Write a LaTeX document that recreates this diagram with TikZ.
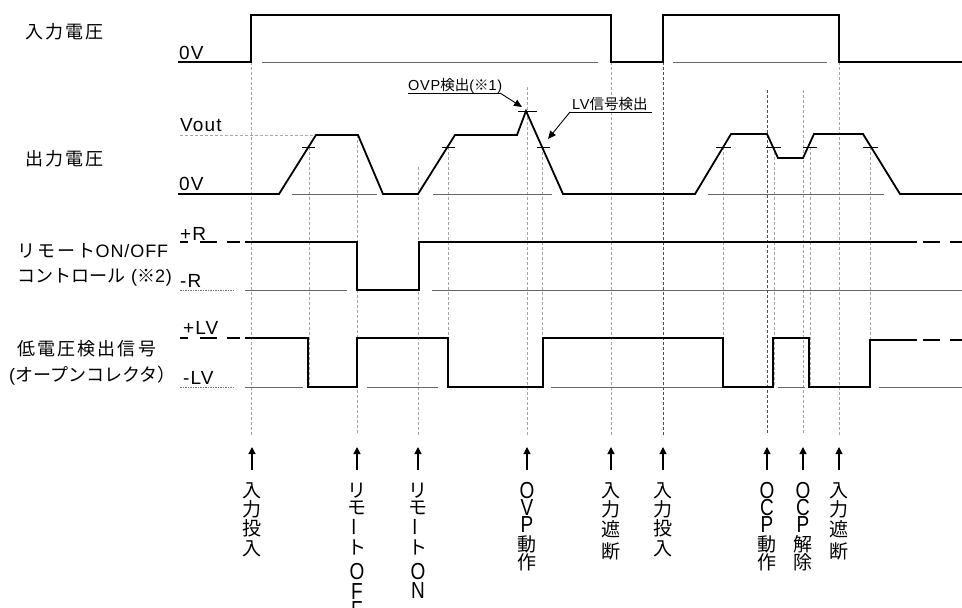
\documentclass[tikz,border=0pt]{standalone}
\usepackage{fontspec}
\setmainfont[LetterSpace=5]{Liberation Sans}
\newfontfamily\jp[LetterSpace=12]{Noto Sans CJK JP}
\newfontfamily\jpn{Noto Sans CJK JP}
\newfontfamily\lat{Liberation Sans}
\newfontfamily\latw[LetterSpace=6]{Liberation Sans}
\usetikzlibrary{arrows.meta}
\newcommand\LL[1]{\scalebox{1}[1.22]{\lat #1}}
\newcommand\VB{\rotatebox[origin=c]{90}{ー}}
\begin{document}
\begin{tikzpicture}[x=1pt,y=-1pt,
  wave/.style={line width=1.8pt, line join=miter},
  base/.style={line width=0.9pt, draw=black!60},
  vdash/.style={line width=0.8pt, draw=black!35, dash pattern=on 3pt off 2pt},
  vdashdk/.style={line width=0.8pt, draw=black!70, dash pattern=on 3pt off 2pt},
  dotl/.style={line width=0.7pt, draw=black!55, dash pattern=on 1.5pt off 1pt},
  tickl/.style={line width=0.9pt},
  jl/.style={font=\fontsize{18}{20}\selectfont, anchor=west, inner sep=0pt},
  ll/.style={font=\latw\fontsize{19}{20}\selectfont, anchor=west, inner sep=0pt},
  ann/.style={font=\fontsize{14.5}{16}\selectfont, anchor=base west, inner sep=0pt},
  vc/.style={font=\jpn\fontsize{19}{19}\selectfont, inner sep=0pt, anchor=center},
  barrow/.style={line width=1.2pt, -{Triangle[length=7pt,width=7pt]}},
  aarrow/.style={line width=0.9pt, -{Triangle[length=8pt,width=7pt]}}
]
\useasboundingbox (0,0) rectangle (962,608);

% vertical event lines
\foreach \x/\t in {251/62,357/135,418/167,527/87,611/62,803/90,839/62}
  \draw[vdash] (\x,\t) -- (\x,435);
\foreach \x/\t in {663/62,767/90}
  \draw[vdashdk] (\x,\t) -- (\x,435);
\foreach \x in {309,448,542,723,774,810,870}
  \draw[vdash] (\x,147) -- (\x,387);

% thin baselines
\draw[base] (262,62) -- (598,62);
\draw[base] (673,62) -- (827,62);
\draw[base] (292,194) -- (377,194);
\draw[base] (433,194) -- (552,194);
\draw[base] (708,194) -- (884,194);
\draw[base] (245,290) -- (347,290);
\draw[base] (432,290) -- (962,290);
\draw[base] (245,387) -- (303,387);
\draw[base] (367,387) -- (438,387);
\draw[base] (551,387) -- (722,387);
\draw[base] (778,387) -- (805,387);
\draw[base] (879,387) -- (962,387);
\draw[dotl] (180,290) -- (235,290);
\draw[dotl] (180,387) -- (235,387);
\draw[vdash] (180,135) -- (315,135);

% input voltage
\draw[wave] (178,62) -- (251,62) -- (251,15) -- (611,15) -- (611,62) -- (663,62)
  -- (663,15) -- (839,15) -- (839,62) -- (962,62);

% output voltage
\draw[wave] (178,194) -- (279,194) -- (316,135) -- (358,135) -- (383,194) -- (418,194)
  -- (455,135) -- (517,135) -- (526,111) -- (563,194) -- (695,194) -- (731,134)
  -- (767,134) -- (778,158) -- (803,158) -- (814,134) -- (863,134) -- (900,194) -- (962,194);
\foreach \a/\b in {302/315,442/455,537/550,716/731,766/781,803/817,863/878}
  \draw[tickl] (\a,147) -- (\b,147);
\draw[tickl] (518,111) -- (537,111);

% remote
\draw[wave] (245,242) -- (357,242) -- (357,290) -- (419,290) -- (419,242) -- (917,242);
\foreach \a/\b in {180/188,200/217,227/240,923/940,950/962}
  \draw[wave] (\a,242) -- (\b,242);

% LV
\draw[wave] (245,338) -- (308,338) -- (308,387) -- (357,387) -- (357,338) -- (448,338)
  -- (448,387) -- (543,387) -- (543,338) -- (723,338) -- (723,387) -- (773,387)
  -- (773,338) -- (809,338) -- (809,387) -- (870,387) -- (870,340) -- (917,340);
\foreach \a/\b in {180/188,200/217,227/240}
  \draw[wave] (\a,338) -- (\b,338);
\foreach \a/\b in {923/940,950/962}
  \draw[wave] (\a,340) -- (\b,340);

% left labels
\node[jl] (lin) at (25,32) {\jp 入力電圧};
\node[ll] (l0v1) at (179,53) {0V};
\node[ll] (lvout) at (180,125) {Vout};
\node[jl] (lout) at (25,159) {\jp 出力電圧};
\node[ll] (l0v2) at (179,184) {0V};
\node[ll] (lpr) at (180,234) {+R};
\node[jl] (lrem1) at (17,251) {{\jp リモート}ON/OFF};
\node[jl] (lrem2) at (17,277) {{\jpn コントロール} ({\jpn ※}2)};
\node[ll] (lmr) at (180,281) {-R};
\node[ll] (lplv) at (183,328) {+LV};
\node[jl] (llv1) at (17,349) {\jp 低電圧検出信号};
\node[jl] (llv2) at (9,376) {({\jpn オープンコレクタ）}};
\node[ll] (lmlv) at (183,378) {-LV};

% annotations
\node[ann] (ovp) at (408,90) {OVP{\jpn 検出}({\jpn ※}1)};
\coordinate (ovpa) at (408,93);
\coordinate (ovpb) at (500,93);
\coordinate (ovpt) at (522,107);
\draw[line width=0.9pt] (ovpa) -- (ovpb);
\draw[aarrow] (ovpb) -- (ovpt);
\node[ann] (lvd) at (572,109) {LV{\jpn 信号検出}};
\coordinate (lva) at (570,112);
\coordinate (lvb) at (652,112);
\coordinate (lvt) at (548,139);
\draw[line width=0.9pt] (lva) -- (lvb);
\draw[aarrow] (lva) -- (lvt);

% bottom arrows
\foreach \x [count=\i] in {252,357,418,527,611,663,767,803,839} {
  \coordinate (ab\i) at (\x,470);
  \coordinate (at\i) at (\x,447);
  \draw[barrow] (ab\i) -- (at\i);
}

% bottom vertical labels
\foreach \c/\yy [count=\i] in {入/491,力/509,投/528,入/549}
  \node[vc] (v1-\i) at (252,\yy) {\c};
\foreach \c/\yy [count=\i] in {リ/491,モ/508,\VB/527,ト/547,\LL O/572,\LL F/592,\LL F/610}
  \node[vc] (v2-\i) at (357,\yy) {\c};
\foreach \c/\yy [count=\i] in {リ/491,モ/508,\VB/527,ト/547,\LL O/572,\LL N/591}
  \node[vc] (v3-\i) at (418,\yy) {\c};
\foreach \c/\yy [count=\i] in {\LL O/491,\LL V/508,\LL P/525,動/544,作/562}
  \node[vc] (v4-\i) at (527,\yy) {\c};
\foreach \c/\yy [count=\i] in {入/491,力/509,遮/529,断/551}
  \node[vc] (v5-\i) at (611,\yy) {\c};
\foreach \c/\yy [count=\i] in {入/491,力/509,投/528,入/549}
  \node[vc] (v6-\i) at (663,\yy) {\c};
\foreach \c/\yy [count=\i] in {\LL O/491,\LL C/508,\LL P/525,動/544,作/562}
  \node[vc] (v7-\i) at (767,\yy) {\c};
\foreach \c/\yy [count=\i] in {\LL O/491,\LL C/508,\LL P/525,解/544,除/562}
  \node[vc] (v8-\i) at (803,\yy) {\c};
\foreach \c/\yy [count=\i] in {入/491,力/509,遮/529,断/551}
  \node[vc] (v9-\i) at (839,\yy) {\c};
\end{tikzpicture}
\end{document}
